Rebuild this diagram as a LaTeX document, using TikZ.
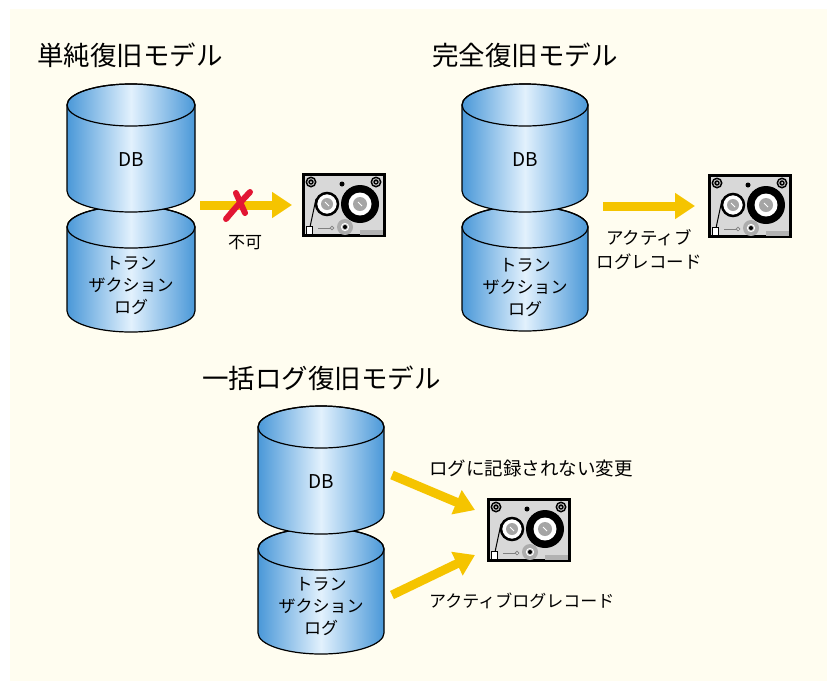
\documentclass[tikz,border=0pt]{standalone}
\usepackage{fontspec}
\setmainfont{Noto Sans CJK JP}
\usetikzlibrary{arrows.meta}

\definecolor{paper}{RGB}{255,253,240}
\definecolor{cylblue}{RGB}{74,152,216}
\definecolor{cyllight}{RGB}{226,241,253}
\definecolor{arrowyellow}{RGB}{245,196,0}
\definecolor{crossred}{RGB}{226,22,52}
\definecolor{tapegray}{RGB}{216,216,216}
\definecolor{hubgray}{RGB}{165,165,165}

% one drum of a database cylinder: centre x, top y, bottom y, x radius
\newcommand\drum[4]{%
  \shadedraw[line width=1.2pt, left color=cylblue, right color=cylblue, middle color=cyllight]
    (#1-#4,#2) -- (#1-#4,#3)
    arc[start angle=180, end angle=0, x radius=#4, y radius=21]
    -- (#1+#4,#2)
    arc[start angle=0, end angle=-180, x radius=#4, y radius=21] -- cycle;
  \draw[line width=1.2pt] (#1,#2) ellipse[x radius=#4, y radius=21];
}

\tikzset{
  title/.style={font=\fontsize{26.5}{30}\selectfont, anchor=west, inner sep=0},
  dblabel/.style={font=\fontsize{19}{22}\selectfont, inner sep=0},
  loglabel/.style={font=\fontsize{17}{22}\selectfont, align=center, inner sep=0},
  note/.style={font=\fontsize{17}{24}\selectfont, inner sep=0},
  notewide/.style={font=\fontsize{18.5}{24}\selectfont, inner sep=0},
  notecenter/.style={font=\fontsize{17.5}{24}\selectfont, inner sep=0, align=center},
  yarrow/.style={draw=arrowyellow, line width=9pt, -{Triangle[length=20pt,width=25pt]}},
  crossmark/.style={draw=crossred, line width=6pt, line cap=round},
  tape/.pic={
    \node[draw=black, line width=3pt, fill=tapegray, minimum width=81pt,
          minimum height=61pt, inner sep=0] (-box) {};
    % corner screws
    \foreach \sx in {-33,32} {
      \fill (\sx,-23) circle[radius=5.5];
      \draw[gray!60, line width=1pt] (\sx,-23) circle[radius=3.3];
      \fill[white] (\sx,-23) circle[radius=1];
    }
    % sensing hole
    \fill (-2,-21) circle[radius=2.5];
    % supply reel
    \filldraw[fill=white, draw=black, line width=2.5pt] (-17,-1) circle[radius=11];
    \fill[hubgray] (-17,-1) circle[radius=6];
    \draw[white, line width=0.9pt] (-19,-3) -- (-15,1);
    % take-up reel
    \fill (16,-1) circle[radius=19];
    \fill[white] (16,-1) circle[radius=11.5];
    \fill[hubgray] (16,-1) circle[radius=7];
    \draw[white, line width=0.9pt] (14,-3) -- (18,1);
    % tape path and guide
    \draw[line width=1pt] (-28,-6) -- (-34,22) -- (-34,28);
    \filldraw[fill=white, draw=black, line width=1pt] (-38,21) rectangle (-32,29);
    \draw[gray, line width=1pt] (-26,23) -- (-13,23);
    \filldraw[fill=white, draw=gray, line width=0.8pt] (-12,23) circle[radius=1.8];
    % drive gear
    \fill[gray!65] (1,22) circle[radius=8];
    \draw[white, line width=1pt] (1,22) circle[radius=3.6];
    \fill (1,22) circle[radius=2];
    % label window
    \fill[gray!60] (16,25) rectangle (39,30);
  }
}

\begin{document}
\begin{tikzpicture}[x=1pt, y=-1pt]
  \useasboundingbox (0,0) rectangle (827,681);
  \fill[white] (0,0) rectangle (827,681);
  \fill[paper] (10,9) rectangle (827,681);

  % ---- simple recovery model
  \node[title] (t1) at (37,55) {単純復旧モデル};
  \drum{131}{227}{311}{64}
  \drum{131}{105}{191}{64}
  \node[dblabel] (db1) at (131,160) {DB};
  \node[loglabel] (log1) at (131,285) {トラン\\ザクション\\ログ};
  \pic (k1) at (344,205) {tape};
  \coordinate (a1) at (200,205);
  \draw[yarrow, shorten >=10pt] (a1) -- (k1-box.west);
  \draw[crossmark] (226,219) .. controls (237,206) .. (250,192);
  \draw[crossmark] (236,193) -- (245,213);
  \node[note] (ng) at (245,243) {不可};

  % ---- full recovery model
  \node[title] (t2) at (432,55) {完全復旧モデル};
  \drum{525}{227}{310}{63}
  \drum{525}{105}{191}{63}
  \node[dblabel] (db2) at (525,160) {DB};
  \node[loglabel] (log2) at (525,287) {トラン\\ザクション\\ログ};
  \pic (k2) at (750,206) {tape};
  \coordinate (a2) at (603,206);
  \draw[yarrow, shorten >=13pt] (a2) -- (k2-box.west);
  \node[notecenter] (ar) at (649,250) {アクティブ\\ログレコード};

  % ---- bulk-logged recovery model
  \node[title] (t3) at (202,378) {一括ログ復旧モデル};
  \drum{321}{549}{633}{63}
  \drum{321}{427}{513}{63}
  \node[dblabel] (db3) at (321,482) {DB};
  \node[loglabel] (log3) at (321,606) {トラン\\ザクション\\ログ};
  \pic (k3) at (529,530) {tape};
  \coordinate (b1) at (392,475);
  \coordinate (b2) at (475,510);
  \coordinate (c1) at (392,595);
  \coordinate (c2) at (475,555);
  \draw[yarrow] (b1) -- (b2);
  \draw[yarrow] (c1) -- (c2);
  \node[notewide, anchor=west] (nl) at (429,468) {ログに記録されない変更};
  \node[note, anchor=west] (al) at (429,601) {アクティブログレコード};
\end{tikzpicture}
\end{document}
